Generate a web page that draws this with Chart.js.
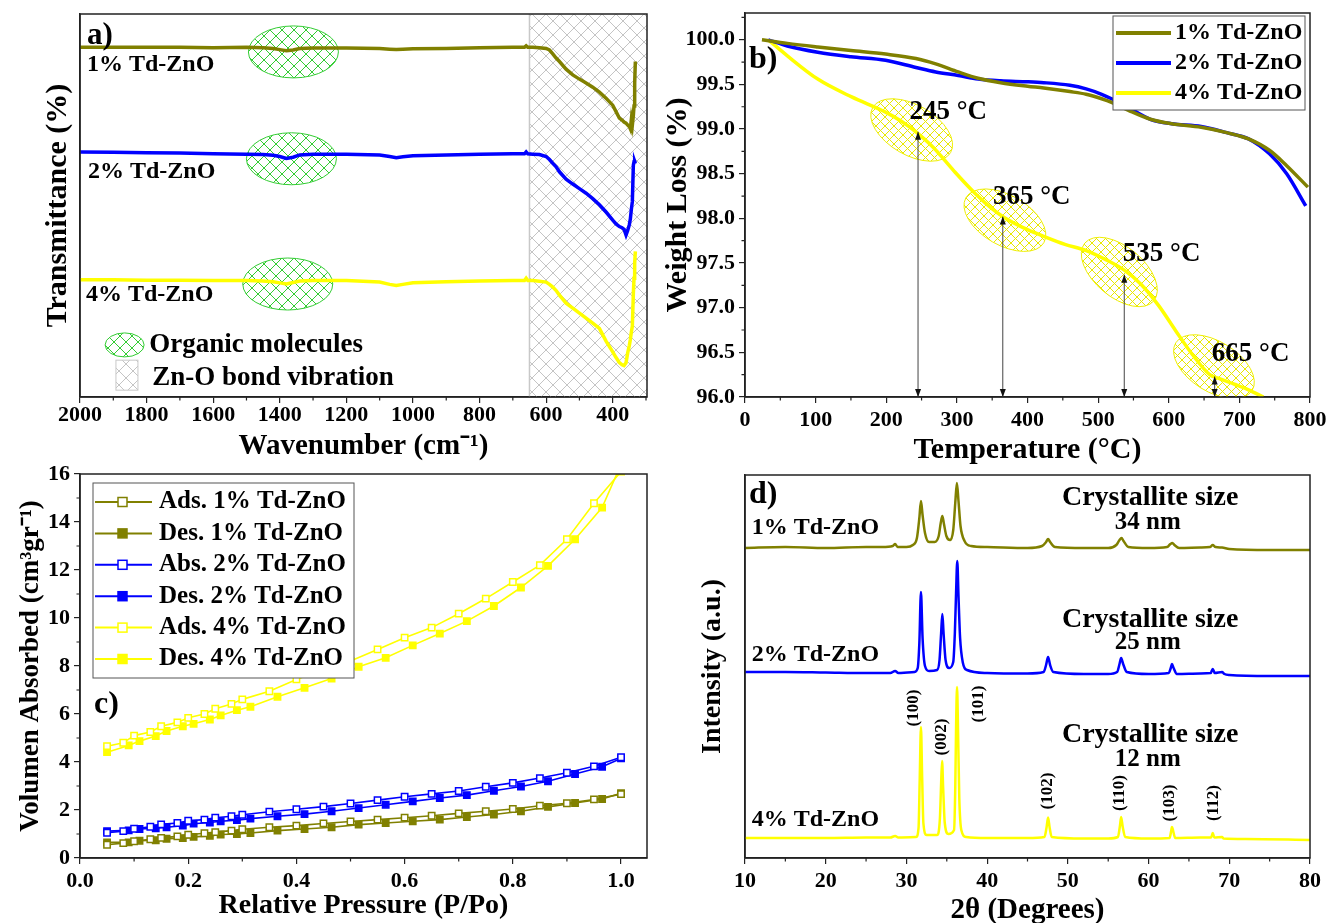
<!DOCTYPE html>
<html>
<head>
<meta charset="utf-8">
<script src="https://cdn.jsdelivr.net/npm/chart.js@4.4.0/dist/chart.umd.min.js"></script>
<style>
  body { margin: 0; background: #fff; }
  #wrap { position: relative; width: 1329px; height: 923px; overflow: hidden; }
  canvas { position: absolute; }
</style>
</head>
<body>
<div id="wrap">
  <canvas id="ftir" width="664" height="470" style="left:0;top:0"></canvas>
  <canvas id="tga" width="669" height="470" style="left:660px;top:0"></canvas>
  <canvas id="bet" width="664" height="461" style="left:0;top:462px"></canvas>
  <canvas id="xrd" width="669" height="461" style="left:660px;top:462px"></canvas>
</div>

<script>
  // ---------- a) FTIR (wavenumber, transmittance offset per sample)
  const WAVENUMBER = [2000,1900,1800,1700,1600,1500,1450,1420,1400,1380,1360,1340,1300,1200,1100,1070,1050,1030,
    1000,900,800,700,665,660,655,640,620,600,590,580,570,560,540,520,500,480,460,440,420,400,390,380,
    372,366,360,355,350,347,344,341,338,336,334,332];
  const FTIR_1 = [91.3,91.3,91.3,91.3,91.2,91.3,91.2,91.0,90.7,90.4,90.6,91.0,91.1,91.1,91.0,90.8,90.7,90.8,
    90.9,91.0,91.2,91.3,91.3,91.7,91.3,91.3,91.2,91.0,90.6,89.6,88.5,87.6,85.6,84.1,83.0,82.0,80.9,79.6,78.0,76.2,74.5,72.8,
    72.3,71.8,71.5,71.0,70.6,70.0,72.5,71.0,73.5,76.0,82.0,87.6];
  const FTIR_2 = [64.0,63.9,63.8,63.7,63.5,63.4,63.3,63.1,62.8,62.3,62.6,63.2,63.4,63.4,63.2,62.8,62.5,62.7,
    63.0,63.2,63.4,63.5,63.5,64.0,63.5,63.4,63.3,62.8,62.0,61.0,60.1,58.8,56.9,55.6,54.4,53.2,51.8,50.2,48.3,46.2,45.2,44.5,
    44.2,43.8,42.3,43.5,45.0,46.5,49.0,51.0,60.5,61.4,61.5,61.0];
  const FTIR_4 = [30.6,30.6,30.5,30.5,30.4,30.4,30.3,30.1,29.8,29.5,29.9,30.3,30.4,30.4,30.0,29.4,29.1,29.4,
    29.8,30.1,30.3,30.4,30.4,31.0,30.4,30.4,30.2,30.0,29.4,28.7,27.8,26.6,24.5,23.2,21.9,20.6,19.3,17.9,14.6,11.8,10.3,9.0,
    8.4,8.2,8.9,11.5,13.5,15.0,17.0,18.5,27.0,31.0,35.0,38.0];
  const FTIR_TICKS = [2000,1800,1600,1400,1200,1000,800,600,400];

  // ---------- b) TGA (temperature °C, weight %)
  const TGA_1_T = [24,60,103,150,199,242,270,302,330,362,400,423,460,483,505,519,543,574,604,646,682,713,743,767,797];
  const TGA_1_W = [100.0,99.96,99.92,99.88,99.84,99.79,99.73,99.64,99.57,99.52,99.48,99.46,99.42,99.39,99.34,99.30,
    99.21,99.11,99.06,99.02,98.96,98.89,98.76,98.59,98.35];
  const TGA_2_T = [33,60,103,150,199,242,270,302,330,362,400,423,460,483,505,519,543,574,604,646,682,713,743,767,794];
  const TGA_2_W = [100.0,99.93,99.86,99.81,99.77,99.69,99.64,99.60,99.56,99.54,99.53,99.52,99.49,99.45,99.39,99.34,
    99.24,99.11,99.06,99.03,98.96,98.89,98.72,98.50,98.14];
  const TGA_4_T = [33,60,103,151,199,223,242,266,296,327,351,367,393,423,453,483,513,537,561,586,610,634,658,670,694,713,734];
  const TGA_4_W = [100.0,99.82,99.56,99.36,99.19,99.08,98.97,98.80,98.53,98.27,98.10,98.01,97.90,97.80,97.71,97.64,
    97.53,97.42,97.26,97.02,96.74,96.47,96.25,96.21,96.14,96.08,96.0];
  const STEP_T = [245, 365, 537, 665];
  const STEP_W = [98.97, 98.02, 97.37, 96.23];
  const STEP_LABELS = ['245 °C', '365 °C', '535 °C', '665 °C'];
  const TGA_X_TICKS = [0,100,200,300,400,500,600,700,800];
  const TGA_Y_TICKS = [96.0,96.5,97.0,97.5,98.0,98.5,99.0,99.5,100.0];

  // ---------- c) N2 isotherms (P/Po, volume)
  const BET_X_ADS = [0.05,0.08,0.10,0.13,0.15,0.18,0.20,0.23,0.25,0.28,0.30,0.35,0.40,0.45,0.50,0.55,0.60,0.65,0.70,0.75,0.80,0.85,0.90,0.95,1.00];
  const BET_X_DES = [0.05,0.09,0.11,0.14,0.16,0.19,0.21,0.24,0.26,0.29,0.315,0.365,0.415,0.465,0.515,0.565,0.615,0.665,0.715,0.765,0.815,0.865,0.915,0.965,1.00];
  const ADS_1 = [0.55,0.62,0.70,0.78,0.84,0.90,0.97,1.03,1.08,1.14,1.20,1.28,1.35,1.44,1.52,1.60,1.68,1.76,1.86,1.95,2.04,2.18,2.28,2.44,2.66];
  const DES_1 = [0.65,0.65,0.72,0.74,0.80,0.83,0.88,0.92,0.98,1.00,1.04,1.14,1.21,1.28,1.39,1.46,1.53,1.60,1.71,1.81,1.95,2.13,2.29,2.46,2.70];
  const ADS_2 = [1.05,1.12,1.22,1.30,1.40,1.46,1.55,1.60,1.68,1.74,1.80,1.93,2.03,2.14,2.27,2.41,2.55,2.67,2.79,2.97,3.13,3.33,3.55,3.82,4.20];
  const DES_2 = [1.12,1.15,1.21,1.24,1.28,1.35,1.43,1.48,1.53,1.58,1.64,1.74,1.83,1.95,2.08,2.22,2.36,2.50,2.62,2.80,2.98,3.20,3.50,3.80,4.15];
  const ADS_4 = [4.66,4.80,5.10,5.25,5.49,5.65,5.84,6.00,6.22,6.42,6.61,6.95,7.44,7.85,8.21,8.69,9.18,9.60,10.18,10.81,11.50,12.20,13.28,14.78,16.10];
  const DES_4 = [4.41,4.69,4.87,5.08,5.29,5.49,5.59,5.77,5.94,6.16,6.30,6.72,7.09,7.48,7.97,8.34,8.86,9.35,9.87,10.50,11.27,12.17,13.28,14.60,16.40];
  const BET_LABELS = ['Ads. 1% Td-ZnO','Des. 1% Td-ZnO','Abs. 2% Td-ZnO','Des. 2% Td-ZnO','Ads. 4% Td-ZnO','Des. 4% Td-ZnO'];
  const BET_X_TICKS = [0,0.2,0.4,0.6,0.8,1.0];
  const BET_Y_TICKS = [0,2,4,6,8,10,12,14,16];

  // ---------- d) XRD (2theta, intensity a.u. with offsets)
  const XRD_1_T = [10,15,20,25,27,28.3,28.6,28.9,30,30.8,31.3,31.6,31.8,32.0,32.3,32.8,33.5,34.0,34.25,34.45,34.65,34.95,35.4,35.8,
    36.05,36.25,36.45,36.7,37.2,38,40,45,46.8,47.3,47.55,47.8,48.4,52,55,56.0,56.4,56.65,56.9,57.5,60,62.3,62.7,62.95,63.2,63.8,
    66.4,67.6,67.95,68.3,69.1,70,75,80];
  const XRD_1_I = [310,311,310,311,311,312,314,311,311,313,320,340,357,343,325,316,316,322,335,342,334,322,318,328,
    355,375,357,332,317,312,311,310,312,316,319,316,311,310,310,313,318,320,317,311,310,311,314,315,313,310,
    310.5,311,313,311,310.5,309,308,308];
  const XRD_2_T = [10,15,20,25,28,28.6,29,31.0,31.4,31.6,31.8,32.0,32.3,32.8,33.8,34.1,34.3,34.45,34.6,34.85,35.3,35.8,36.0,36.15,
    36.3,36.45,36.65,37.0,37.5,40,45,47.0,47.3,47.55,47.8,48.2,52,55,56.1,56.4,56.6,56.85,57.3,60,62.5,62.75,62.9,63.1,63.5,
    66.4,67.7,67.95,68.2,69.1,69.4,70,75,80];
  const XRD_2_I = [186,186,185.5,185,185,187,185,186,190,215,266,220,192,187,188,198,225,244,225,198,190,196,225,265,
    297,262,220,195,188,185,184.5,186,193,201,193,186,184,184,186,194,200,194,186,184,185,190,194,190,184,
    184.5,185,189,185,186,184,183,182,182];
  const XRD_4_T = [10,15,20,25,28,28.6,29,31.2,31.5,31.65,31.8,31.95,32.1,32.5,33.8,34.15,34.3,34.42,34.55,34.75,35.2,35.9,36.05,36.15,
    36.27,36.4,36.55,36.8,37.4,40,45,47.1,47.35,47.55,47.75,48.0,52,55,56.2,56.45,56.6,56.8,57.1,60,62.6,62.8,62.9,63.05,63.3,
    66.4,67.75,67.95,68.15,69.1,69.3,72,80];
  const XRD_4_I = [20,20,20,20.5,20.5,22,20.5,21,30,80,131,80,35,23,23,40,75,97,70,35,24,28,70,130,
    171,125,60,28,21,20,20,21,30,40.5,30,21,19.5,19.5,21,32,41,31,21,19.5,20,27,31,27,20,
    20.5,20.5,25,20.5,21,19.5,19,18];
  const HKL = ['(100)','(002)','(101)','(102)','(110)','(103)','(112)'];
  const XRD_TICKS = [10,20,30,40,50,60,70,80];

  const SAMPLES = ['1% Td-ZnO', '2% Td-ZnO', '4% Td-ZnO'];
  const OLIVE = '#808000', BLUE = '#0000ff', YELLOW = '#ffff00';
  const COLORS = [OLIVE, BLUE, YELLOW];
  const SERIF = "'Liberation Serif', 'Times New Roman', serif";

  Chart.defaults.font.family = SERIF;
  Chart.defaults.font.weight = 'bold';
  Chart.defaults.color = '#000';
  Chart.defaults.animation = false;

  const xy = (xs, ys) => xs.map((x, i) => ({x: x, y: ys[i]}));

  // box round the plot and the small minor ticks
  Chart.register({
    id: 'frame',
    afterDraw(chart, args, opts) {
      const {ctx, chartArea: a} = chart;
      const sx = chart.scales.x, sy = chart.scales.y;
      ctx.save();
      ctx.strokeStyle = '#222';
      ctx.lineWidth = 1.5;
      ctx.strokeRect(a.left, a.top, a.right - a.left, a.bottom - a.top);
      ctx.lineWidth = 1.2;
      ctx.beginPath();
      (opts.minorX || []).forEach(v => {
        const p = sx.getPixelForValue(v);
        ctx.moveTo(p, a.bottom); ctx.lineTo(p, a.bottom + 3.5);
      });
      (opts.minorY || []).forEach(v => {
        const p = sy.getPixelForValue(v);
        ctx.moveTo(a.left, p); ctx.lineTo(a.left - 3.5, p);
      });
      ctx.stroke();
      ctx.restore();
    }
  });

  function axis(o) {
    return {
      type: 'linear', min: o.min, max: o.max, reverse: !!o.reverse,
      afterBuildTicks: s => { s.ticks = o.ticks.map(v => ({value: v})); },
      afterFit: s => {
        // fixed box sizes so that the plot areas line up with the figure
        if (s.isHorizontal()) { s.height = o.size; s.paddingLeft = 0; s.paddingRight = 0; }
        else { s.width = o.size; s.paddingTop = 0; s.paddingBottom = 0; }
      },
      ticks: {
        display: o.labels !== false, autoSkip: false, maxRotation: 0, padding: o.pad || 0,
        font: {size: 22, weight: 'bold', lineHeight: 1}, color: '#000',
        callback: o.fmt || (v => String(v))
      },
      grid: {drawOnChartArea: false, drawTicks: o.labels !== false, tickLength: 6, color: '#222', lineWidth: 1.2},
      border: {display: true, color: '#222', width: 1.5},
      title: {
        display: true, text: o.title, color: '#000',
        font: {size: o.tsize || 29, weight: 'bold', lineHeight: 1},
        padding: o.tpad
      }
    };
  }

  function txt(ctx, s, x, y, size, align, rot) {
    ctx.save();
    ctx.font = 'bold ' + size + 'px ' + SERIF;
    ctx.fillStyle = '#000';
    ctx.textAlign = align || 'left';
    ctx.textBaseline = 'middle';
    ctx.translate(x, y);
    if (rot) ctx.rotate(rot);
    ctx.fillText(s, 0, 0);
    ctx.restore();
  }

  function hatchTile(color, size, lw) {
    const c = document.createElement('canvas');
    c.width = c.height = size;
    const g = c.getContext('2d');
    g.strokeStyle = color;
    g.lineWidth = lw;
    g.beginPath();
    g.moveTo(0, 0); g.lineTo(size, size);
    g.moveTo(size, 0); g.lineTo(0, size);
    g.stroke();
    return c;
  }
  const GRAY_TILE = hatchTile('#c4c4c4', 14, 1);
  const GREEN_TILE = hatchTile('#33cc33', 12, 1);
  const YELLOW_TILE = hatchTile('#e8e800', 9, 1);

  function hatchEllipse(ctx, cx, cy, rx, ry, rot, tile, stroke) {
    ctx.save();
    ctx.beginPath();
    ctx.ellipse(cx, cy, rx, ry, rot, 0, Math.PI * 2);
    ctx.fillStyle = ctx.createPattern(tile, 'repeat');
    ctx.fill();
    ctx.strokeStyle = stroke;
    ctx.lineWidth = 1;
    ctx.stroke();
    ctx.restore();
  }

  const noLegend = {legend: {display: false}, tooltip: {enabled: false}};

  // ================= a) FTIR
  new Chart('ftir', {
    type: 'line',
    data: {
      datasets: [FTIR_1, FTIR_2, FTIR_4].map((d, i) => ({
        data: xy(WAVENUMBER, d), borderColor: COLORS[i], borderWidth: 3.5,
        pointRadius: 0, tension: 0
      }))
    },
    options: {
      responsive: false,
      layout: {padding: {left: 0, top: 14, right: 17, bottom: 0}},
      scales: {
        x: axis({min: 297, max: 2000, reverse: true, ticks: FTIR_TICKS, size: 73, pad: 1,
                 title: 'Wavenumber (cm⁻¹)', tpad: {top: 0, bottom: 8.5}}),
        y: axis({min: 0, max: 100, ticks: [0], labels: false, size: 80,
                 title: 'Transmittance (%)', tsize: 30, tpad: {top: 43, bottom: 0}})
      },
      plugins: Object.assign({frame: {minorX: [1900,1700,1500,1300,1100,900,700,500,300]}}, noLegend)
    },
    plugins: [{
      id: 'ftirMarks',
      beforeDatasetsDraw(chart) {
        const {ctx, chartArea: a} = chart;
        const sx = chart.scales.x, sy = chart.scales.y;
        ctx.save();
        // Zn-O band region
        const x0 = sx.getPixelForValue(650);
        ctx.fillStyle = ctx.createPattern(GRAY_TILE, 'repeat');
        ctx.fillRect(x0, a.top, a.right - x0, a.bottom - a.top);
        ctx.strokeStyle = '#c8c8c8';
        ctx.lineWidth = 1.5;
        ctx.beginPath(); ctx.moveTo(x0, a.top); ctx.lineTo(x0, a.bottom); ctx.stroke();
        // organic molecules
        [[1359, 90.1], [1365, 62.2], [1376, 29.5]].forEach(p => {
          hatchEllipse(ctx, sx.getPixelForValue(p[0]), sy.getPixelForValue(p[1]), 45, 26, 0, GREEN_TILE, '#33cc33');
        });
        ctx.restore();
      },
      afterDatasetsDraw(chart) {
        const {ctx} = chart;
        const sx = chart.scales.x, sy = chart.scales.y;
        txt(ctx, 'a)', sx.getPixelForValue(1979), sy.getPixelForValue(94.3), 31);
        txt(ctx, SAMPLES[0], sx.getPixelForValue(1979), sy.getPixelForValue(86.7), 24);
        txt(ctx, SAMPLES[1], sx.getPixelForValue(1976), sy.getPixelForValue(58.7), 24);
        txt(ctx, SAMPLES[2], sx.getPixelForValue(1982), sy.getPixelForValue(26.6), 24);
        // legend
        const lx = sx.getPixelForValue(1866), ly = sy.getPixelForValue(13.6);
        hatchEllipse(ctx, lx, ly, 19.5, 12, 0, GREEN_TILE, '#33cc33');
        txt(ctx, 'Organic molecules', sx.getPixelForValue(1792), ly, 27);
        const qx = sx.getPixelForValue(1859), qy = sy.getPixelForValue(5.7);
        ctx.save();
        ctx.fillStyle = ctx.createPattern(GRAY_TILE, 'repeat');
        ctx.fillRect(qx - 11, qy - 15, 22, 30);
        ctx.strokeStyle = '#c8c8c8';
        ctx.lineWidth = 1;
        ctx.strokeRect(qx - 11, qy - 15, 22, 30);
        ctx.restore();
        txt(ctx, 'Zn-O bond vibration', sx.getPixelForValue(1783), sy.getPixelForValue(5.0), 27);
      }
    }]
  });

  // ================= b) TGA
  new Chart('tga', {
    type: 'line',
    data: {
      datasets: [[TGA_1_T, TGA_1_W], [TGA_2_T, TGA_2_W], [TGA_4_T, TGA_4_W]].map((d, i) => ({
        label: SAMPLES[i], data: xy(d[0], d[1]), borderColor: COLORS[i], borderWidth: 3.5,
        pointRadius: 0, cubicInterpolationMode: 'monotone'
      }))
    },
    options: {
      responsive: false,
      layout: {padding: {left: 0, top: 13, right: 19, bottom: 0}},
      scales: {
        x: axis({min: 0, max: 800, ticks: TGA_X_TICKS, size: 73, pad: 6,
                 title: 'Temperature (°C)', tsize: 30, tpad: {top: 0, bottom: 5}}),
        y: axis({min: 96, max: 100.3, ticks: TGA_Y_TICKS, size: 85, pad: 4, fmt: v => v.toFixed(1),
                 title: 'Weight Loss (%)', tsize: 30, tpad: {top: 3, bottom: 0}})
      },
      plugins: Object.assign({frame: {
        minorX: [50,150,250,350,450,550,650,750],
        minorY: [96.25,96.75,97.25,97.75,98.25,98.75,99.25,99.75,100.25]
      }}, noLegend)
    },
    plugins: [{
      id: 'tgaMarks',
      beforeDatasetsDraw(chart) {
        const {ctx, chartArea: a} = chart;
        const sx = chart.scales.x, sy = chart.scales.y;
        ctx.save();
        ctx.beginPath();
        ctx.rect(a.left, a.top, a.right - a.left, a.bottom - a.top);
        ctx.clip();
        [[236, 98.99, 30], [368, 97.98, 30], [530, 97.40, 40], [664, 96.34, 32]].forEach(e => {
          hatchEllipse(ctx, sx.getPixelForValue(e[0]), sy.getPixelForValue(e[1]), 45, 25,
                       e[2] * Math.PI / 180, YELLOW_TILE, '#eeee00');
        });
        ctx.restore();
      },
      afterDatasetsDraw(chart) {
        const {ctx, chartArea: a} = chart;
        const sx = chart.scales.x, sy = chart.scales.y;
        ctx.save();
        const head = (x, y, dir) => {
          ctx.beginPath();
          ctx.moveTo(x, y);
          ctx.lineTo(x - 3, y - dir * 8);
          ctx.lineTo(x + 3, y - dir * 8);
          ctx.closePath();
          ctx.fill();
        };
        ctx.strokeStyle = '#444';
        ctx.fillStyle = '#111';
        ctx.lineWidth = 1;
        STEP_T.forEach((t, i) => {
          const x = sx.getPixelForValue(t), yb = sy.getPixelForValue(96), yt = sy.getPixelForValue(STEP_W[i]);
          ctx.beginPath(); ctx.moveTo(x, yb); ctx.lineTo(x, yt); ctx.stroke();
          head(x, yb, 1);
          head(x, yt, -1);
        });
        ctx.restore();
        [[233, 99.19], [351, 98.24], [535, 97.60], [661, 96.48]].forEach((p, i) => {
          txt(ctx, STEP_LABELS[i], sx.getPixelForValue(p[0]), sy.getPixelForValue(p[1]), 27);
        });
        txt(ctx, 'b)', sx.getPixelForValue(5.7), sy.getPixelForValue(99.78), 32);
        // legend box
        const bx = a.right - 197, by = a.top + 3, bw = 192, bh = 94;
        ctx.save();
        ctx.fillStyle = '#fff';
        ctx.fillRect(bx, by, bw, bh);
        ctx.strokeStyle = '#555';
        ctx.lineWidth = 1;
        ctx.strokeRect(bx, by, bw, bh);
        chart.data.datasets.forEach((ds, i) => {
          const ry = by + 17 + i * 30;
          ctx.strokeStyle = ds.borderColor;
          ctx.lineWidth = 4;
          ctx.beginPath(); ctx.moveTo(bx + 3, ry); ctx.lineTo(bx + 58, ry); ctx.stroke();
          txt(ctx, ds.label, bx + 62, ry, 24);
        });
        ctx.restore();
      }
    }]
  });

  // ================= c) isotherms
  const betSets = [];
  [[ADS_1, DES_1], [ADS_2, DES_2], [ADS_4, DES_4]].forEach((pair, i) => {
    betSets.push({label: BET_LABELS[2 * i], data: xy(BET_X_ADS, pair[0]), borderColor: COLORS[i],
      pointBackgroundColor: '#fff', pointBorderColor: COLORS[i]});
    betSets.push({label: BET_LABELS[2 * i + 1], data: xy(BET_X_DES, pair[1]), borderColor: COLORS[i],
      pointBackgroundColor: COLORS[i], pointBorderColor: COLORS[i]});
  });
  betSets.forEach(d => Object.assign(d, {borderWidth: 1.6, pointStyle: 'rect', pointRadius: 4.5,
    pointBorderWidth: 1.5, tension: 0}));

  new Chart('bet', {
    type: 'line',
    data: {datasets: betSets},
    options: {
      responsive: false,
      layout: {padding: {left: 0, top: 12, right: 17, bottom: 0}},
      scales: {
        x: axis({min: 0, max: 1.048, ticks: BET_X_TICKS, size: 65, pad: 6, fmt: v => v.toFixed(1),
                 title: 'Relative Pressure (P/Po)', tsize: 28, tpad: {top: 0, bottom: 3}}),
        y: axis({min: 0, max: 16, ticks: BET_Y_TICKS, size: 80, pad: 4,
                 title: 'Volumen Absorbed (cm³gr⁻¹)', tsize: 27, tpad: {top: 17.5, bottom: 0}})
      },
      plugins: Object.assign({frame: {minorX: [0.1,0.3,0.5,0.7,0.9], minorY: [1,3,5,7,9,11,13,15]}}, noLegend)
    },
    plugins: [{
      id: 'betMarks',
      afterDatasetsDraw(chart) {
        const {ctx, chartArea: a} = chart;
        const sx = chart.scales.x, sy = chart.scales.y;
        txt(ctx, 'c)', sx.getPixelForValue(0.026), sy.getPixelForValue(6.4), 32);
        const bx = a.left + 13, by = a.top + 9, bw = 261, bh = 195;
        ctx.save();
        ctx.fillStyle = '#fff';
        ctx.fillRect(bx, by, bw, bh);
        ctx.strokeStyle = '#555';
        ctx.lineWidth = 1;
        ctx.strokeRect(bx, by, bw, bh);
        chart.data.datasets.forEach((ds, i) => {
          const ry = by + 19 + i * 31.4;
          ctx.strokeStyle = ds.borderColor;
          ctx.lineWidth = 2;
          ctx.beginPath(); ctx.moveTo(bx + 2, ry); ctx.lineTo(bx + 59, ry); ctx.stroke();
          ctx.fillStyle = ds.pointBackgroundColor;
          ctx.lineWidth = 1.5;
          ctx.fillRect(bx + 25, ry - 4.5, 9, 9);
          ctx.strokeRect(bx + 25, ry - 4.5, 9, 9);
          txt(ctx, ds.label, bx + 66, ry, 25);
        });
        ctx.restore();
      }
    }]
  });

  // ================= d) XRD
  new Chart('xrd', {
    type: 'line',
    data: {
      datasets: [[XRD_1_T, XRD_1_I], [XRD_2_T, XRD_2_I], [XRD_4_T, XRD_4_I]].map((d, i) => ({
        data: xy(d[0], d[1]), borderColor: COLORS[i], borderWidth: 2.5,
        pointRadius: 0, cubicInterpolationMode: 'monotone'
      }))
    },
    options: {
      responsive: false,
      layout: {padding: {left: 0, top: 13, right: 19, bottom: 0}},
      scales: {
        x: axis({min: 10, max: 80, ticks: XRD_TICKS, size: 65, pad: 6,
                 title: '2θ (Degrees)', tsize: 29, tpad: {top: 0, bottom: -2}}),
        y: axis({min: 0, max: 383, ticks: [0], labels: false, size: 85,
                 title: 'Intensity (a.u.)', tsize: 28, tpad: {top: 39, bottom: 0}})
      },
      plugins: Object.assign({frame: {minorX: [15,25,35,45,55,65,75]}}, noLegend)
    },
    plugins: [{
      id: 'xrdMarks',
      afterDatasetsDraw(chart) {
        const {ctx} = chart;
        const sx = chart.scales.x, sy = chart.scales.y;
        const at = (x, y) => [sx.getPixelForValue(x), sy.getPixelForValue(y)];
        let p = at(10.5, 363); txt(ctx, 'd)', p[0], p[1], 32);
        [[330, '34 nm', 360, 335], [203, '25 nm', 238, 215], [38, '12 nm', 123, 98]].forEach((r, i) => {
          p = at(10.83, r[0]); txt(ctx, SAMPLES[i], p[0], p[1], 24);
          p = at(60.2, r[2]); txt(ctx, 'Crystallite size', p[0], p[1], 28, 'center');
          p = at(59.9, r[3]); txt(ctx, r[1], p[0], p[1], 25, 'center');
        });
        [[30.9, 150], [34.3, 121], [39.0, 154], [47.5, 67], [56.4, 65], [62.6, 55], [68.1, 55]].forEach((q, i) => {
          p = at(q[0], q[1]); txt(ctx, HKL[i], p[0], p[1], 17, 'center', -Math.PI / 2);
        });
      }
    }]
  });
</script>
</body>
</html>
